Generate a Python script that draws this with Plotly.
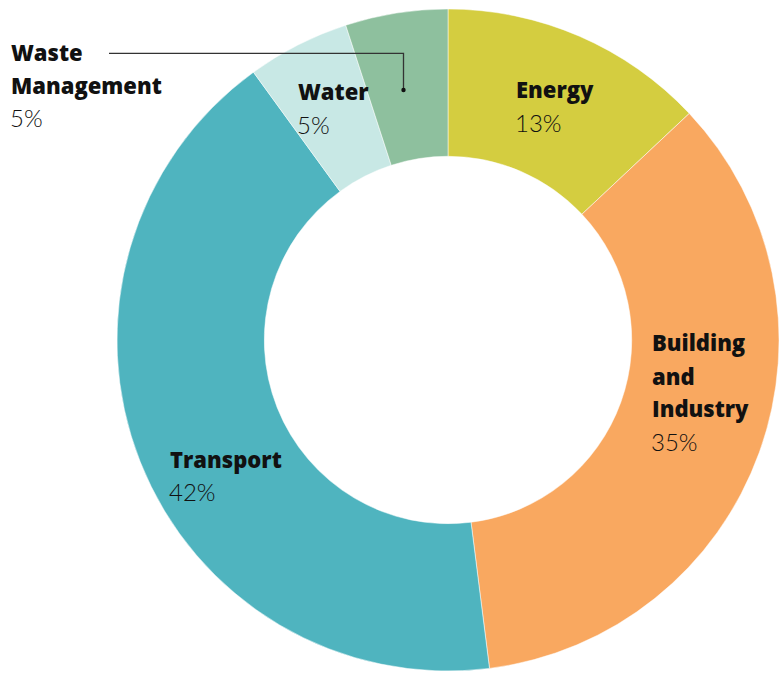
import plotly.graph_objects as go

# ---- data ----
sectors = ["Energy", "Building and Industry", "Transport", "Water", "Waste Management"]
shares = [13, 35, 42, 5, 5]
colors = ["#D4CD40", "#F9A860", "#4FB4BF", "#C8E8E5", "#8EC09E"]
name_lines = [["Energy"], ["Building", "and", "Industry"], ["Transport"], ["Water"], ["Waste", "Management"]]

W, H = 779, 673

# label layout (pixel: left x, centre y of each line)
label_pos = [
    (517, [89, 122.5]),
    (653, [341.5, 375.5, 408.5, 441.5]),
    (171, [458.5, 491.5]),
    (299, [91.5, 124]),
    (12, [52, 84.5, 117.5]),
]

fig = go.Figure()
fig.add_trace(go.Pie(
    labels=sectors,
    values=shares,
    marker=dict(colors=colors, line=dict(color="white", width=0.5)),
    hole=0.555,
    sort=False,
    direction="clockwise",
    rotation=0,
    textinfo="none",
    hoverinfo="label+percent",
    showlegend=False,
    domain=dict(x=[117 / W, 1.0], y=[1 / H, 665 / H]),
))

def px(x):
    return x / W

def py(y):
    return 1 - y / H

annotations = []
for sec, share, lines, (lx, ys) in zip(sectors, shares, name_lines, label_pos):
    for ln, yc in zip(lines, ys[:-1]):
        annotations.append(dict(
            x=px(lx - 2), y=py(yc), xref="paper", yref="paper",
            xanchor="left", yanchor="middle", showarrow=False, borderpad=0,
            text=ln,
            font=dict(family="Open Sans", size=22, color="#111111", weight=800),
        ))
    annotations.append(dict(
        x=px(lx - 3), y=py(ys[-1]), xref="paper", yref="paper",
        xanchor="left", yanchor="middle", showarrow=False, borderpad=0,
        text=f"{share}%",
        font=dict(family="Lato", size=24, color="#111111", weight=300),
    ))

shapes = [
    dict(type="path", xref="paper", yref="paper",
         path=f"M {px(109)} {py(53.3)} L {px(403.5)} {py(53.3)} L {px(403.5)} {py(90)}",
         line=dict(color="#333333", width=1.3)),
    dict(type="circle", xref="paper", yref="paper",
         x0=px(401.3), x1=px(405.7), y0=py(92.2), y1=py(87.8),
         fillcolor="#111111", line=dict(width=0)),
]

fig.update_layout(
    width=W, height=H,
    margin=dict(l=0, r=0, t=0, b=0),
    paper_bgcolor="white",
    plot_bgcolor="white",
    annotations=annotations,
    shapes=shapes,
)

fig.write_html("out.html")
